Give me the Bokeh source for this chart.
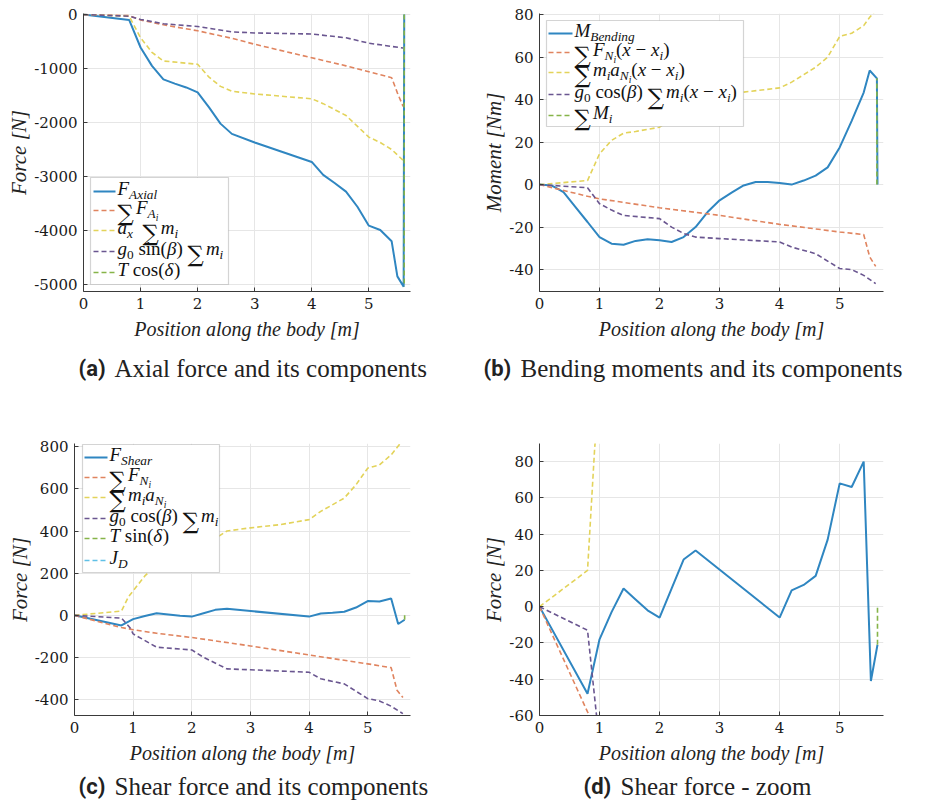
from bokeh.plotting import figure
from bokeh.layouts import column, row
from bokeh.models import Range1d, FixedTicker, Label, BoxAnnotation, Arrow
from bokeh.embed import file_html
from bokeh.resources import INLINE

# ---------------- data ----------------
# (a) axial force
axial_x = [0, 0.8, 1.0, 1.2, 1.4, 1.6, 1.8, 2.0, 2.2, 2.4, 2.6, 3.0, 3.5, 4.0, 4.2, 4.4, 4.6, 4.8, 5.0, 5.2, 5.4, 5.5, 5.61, 5.62]
axial_f = [0, -100, -610, -950, -1200, -1280, -1350, -1440, -1720, -2020, -2210, -2370, -2550, -2730, -2970, -3120, -3280, -3560, -3910, -3990, -4200, -4850, -5040, 0]
axial_fa_x = [0, 0.8, 1.0, 1.4, 2.0, 2.6, 3.0, 4.0, 4.6, 5.0, 5.4, 5.5, 5.6]
axial_fa_y = [0, -20, -100, -190, -300, -440, -550, -800, -950, -1060, -1170, -1450, -1700]
axial_am_x = [0, 0.8, 1.0, 1.2, 1.4, 2.0, 2.2, 2.4, 2.6, 3.0, 4.0, 4.2, 4.6, 5.0, 5.2, 5.4, 5.6]
axial_am_y = [0, -30, -430, -700, -860, -920, -1160, -1330, -1420, -1470, -1560, -1650, -1870, -2270, -2370, -2500, -2700]
axial_gm_x = [0, 0.8, 1.0, 1.4, 2.0, 2.6, 3.0, 4.0, 4.6, 5.0, 5.6]
axial_gm_y = [0, -30, -90, -170, -220, -320, -340, -360, -430, -530, -620]
axial_t_x = [5.62, 5.62]
axial_t_y = [0, -5040]

# (b) bending moment
bend_x = [0, 0.2, 0.4, 0.6, 0.8, 1.0, 1.2, 1.4, 1.6, 1.8, 2.0, 2.2, 2.4, 2.6, 2.8, 3.0, 3.2, 3.4, 3.6, 3.8, 4.0, 4.2, 4.4, 4.6, 4.8, 5.0, 5.2, 5.4, 5.5, 5.62, 5.63]
bend_m = [0, -0.4, -3.6, -10.6, -17.6, -24.7, -27.8, -28.3, -26.5, -25.7, -26.2, -27.0, -24.7, -20.0, -12.9, -7.4, -3.8, -0.4, 1.2, 1.2, 0.7, 0, 1.9, 4.2, 8.1, 17.5, 30.0, 43.3, 53.7, 50.0, 0]
bend_fn_x = [0, 0.8, 1.0, 2.0, 3.0, 4.0, 5.0, 5.4, 5.5, 5.6]
bend_fn_y = [0, -5.5, -6.7, -10.9, -14.5, -18.7, -22.3, -23.5, -34.0, -38.5]
bend_ma_x = [0, 0.8, 0.9, 1.0, 1.2, 1.4, 1.6, 2.0, 2.2, 2.6, 3.0, 3.4, 4.0, 4.2, 4.6, 4.8, 5.0, 5.2, 5.4, 5.5, 5.6]
bend_ma_y = [0, 1.9, 8.2, 14.5, 20.8, 24.2, 25.0, 27.0, 31.0, 40.0, 42.5, 43.5, 45.5, 48.2, 55.2, 60.0, 69.7, 71.2, 74.8, 78.7, 82.0]
bend_gm_x = [0, 0.8, 1.0, 1.2, 1.4, 2.0, 2.2, 2.4, 2.6, 3.0, 4.0, 4.2, 4.6, 5.0, 5.2, 5.4, 5.6]
bend_gm_y = [0, -1.5, -9.0, -12.0, -14.5, -16.0, -20.0, -23.0, -24.7, -25.4, -27.0, -29.4, -32.5, -39.5, -40.0, -42.7, -46.6]
bend_mi_x = [5.62, 5.62]
bend_mi_y = [0, 50]

# (c)/(d) shear force
shear_x = [0, 0.8, 1.0, 1.2, 1.4, 1.6, 1.8, 2.0, 2.2, 2.4, 2.6, 4.0, 4.2, 4.4, 4.6, 4.8, 5.0, 5.2, 5.4, 5.52, 5.63]
shear_f = [0, -48, -18, -3, 10, 4, -2, -6, 10, 26, 31, -6, 9, 12, 17, 37, 68, 66, 80, -41, -21]
shear_fn_x = [0, 0.8, 1.0, 1.4, 2.0, 3.0, 4.0, 5.0, 5.4, 5.5, 5.6]
shear_fn_y = [0, -58, -68, -85, -105, -145, -188, -230, -248, -355, -390]
shear_ma_x = [0, 0.8, 0.92, 1.0, 1.2, 1.4, 1.8, 2.0, 2.2, 2.6, 3.0, 3.5, 4.0, 4.2, 4.6, 4.8, 5.0, 5.2, 5.4, 5.6]
shear_ma_y = [0, 20, 88, 116, 187, 240, 265, 280, 330, 400, 415, 430, 454, 493, 556, 619, 698, 713, 761, 831]
shear_gm_x = [0, 0.8, 0.95, 1.0, 1.4, 2.0, 2.2, 2.6, 3.0, 4.0, 4.2, 4.6, 5.0, 5.2, 5.4, 5.6]
shear_gm_y = [0, -13, -60, -88, -151, -164, -199, -254, -258, -270, -301, -325, -395, -406, -431, -466]
shear_jd_x = [5.63, 5.63]
shear_jd_y = [0, 0]
shear_t_x = [5.63, 5.63]
shear_t_y = [-21, 0]

x_ticks = [0, 1, 2, 3, 4, 5]
a_yticks = [0, -1000, -2000, -3000, -4000, -5000]
b_yticks = [-40, -20, 0, 20, 40, 60, 80]
c_yticks = [-400, -200, 0, 200, 400, 600, 800]
d_yticks = [-60, -40, -20, 0, 20, 40, 60, 80]

x_label = "Position along the body [m]"
captions = [("(a)", "Axial force and its components"),
            ("(b)", "Bending moments and its components"),
            ("(c)", "Shear force and its components"),
            ("(d)", "Shear force - zoom")]

# ---------------- styling ----------------
BLUE = "#2f86c1"
RED = "#e0845f"
YEL = "#e3d35a"
PUR = "#6a5690"
GRN = "#86b449"
CYA = "#5fc0e6"
SERIF = "Liberation Serif"
DASH = "5 3"
TEXT_SHIFT = 7  # empirical baseline correction for captions (px, upwards)
LEG_RAISE = 3   # legend text raise (px)

ROMAN_W = {' ': .25, '(': .333, ')': .333, '−': .564, '-': .333, '0': .5, 's': .389, 'i': .278,
           'n': .5, 'c': .444, 'o': .5, 'β': .5, 'δ': .5}
ITAL_W = {'a': .5, 'b': .5, 'd': .5, 'e': .444, 'g': .5, 'h': .5, 'i': .278, 'l': .278, 'm': .722,
          'n': .5, 'r': .389, 's': .389, 'x': .444, 'A': .611, 'B': .611, 'D': .722, 'F': .611,
          'J': .444, 'M': .833, 'N': .667, 'S': .5, 'T': .556, 'β': .5, 'δ': .5, ' ': .25}
# style: (scale, italic, down-shift of the text middle in px, font)
STY = {"i": (1.0, True, 0, SERIF), "r": (1.0, False, 0, SERIF),
       "si": (0.7, True, 6, SERIF), "sr": (0.7, False, 6, SERIF),
       "ssi": (0.5, True, 10, SERIF), "sum": (1.2, False, 5, "DejaVu Serif")}
SUM_W = 0.72


def tw(text, italic):
    t = ITAL_W if italic else ROMAN_W
    return sum(t.get(ch, 0.5) for ch in text)


def add_label(p, x, y, text, size, italic=False, font=SERIF, bold=False, color="#111111",
              baseline="alphabetic", shift=TEXT_SHIFT):
    style = "bold" if bold else ("italic" if italic else "normal")
    p.add_layout(Label(x=x, y=y + shift, x_units="screen", y_units="screen",
                       text=text, text_font=font, text_font_size=f"{size:.1f}px",
                       text_font_style=style, text_align="left",
                       text_baseline=baseline, text_color=color))


class Panel:
    def __init__(self, w, h, L, R, T, B, ox, oy, yr, yticks, ylabel):
        p = figure(width=w, height=h, x_range=Range1d(0, 5.73), y_range=Range1d(*yr),
                   output_backend="svg", toolbar_location=None,
                   min_border_left=L, min_border_right=R, min_border_top=T, min_border_bottom=B)
        p.outline_line_color = None
        p.background_fill_color = "white"
        p.border_fill_color = "white"
        p.xaxis.ticker = FixedTicker(ticks=x_ticks)
        p.yaxis.ticker = FixedTicker(ticks=yticks)
        p.yaxis.major_label_overrides = {t: str(t) for t in yticks}
        for g in (p.xgrid, p.ygrid):
            g.grid_line_color = "#e6e6e6"
            g.grid_line_width = 1
        for ax in (p.xaxis, p.yaxis):
            ax.axis_line_color = "#3a3a3a"
            ax.axis_line_width = 1
            ax.major_tick_in = 4
            ax.major_tick_out = 0
            ax.major_tick_line_color = "#3a3a3a"
            ax.minor_tick_line_color = None
            ax.major_label_text_font = "DejaVu Serif"
            ax.major_label_text_font_size = "15px"
            ax.major_label_text_color = "#1a1a1a"
            ax.major_label_standoff = 6
            ax.axis_label_text_font = SERIF
            ax.axis_label_text_font_style = "italic"
            ax.axis_label_text_color = "#222222"
        p.xaxis.axis_label = x_label
        p.xaxis.axis_label_text_font_size = "20px"
        p.xaxis.axis_label_standoff = 6
        p.yaxis.axis_label = ylabel
        p.yaxis.axis_label_text_font_size = "21px"
        p.yaxis.axis_label_standoff = 0
        self.p = p
        self.FL = ox + L
        self.FB = oy + h - B

    def rich(self, px, pymid, segs, S=19):
        x = px
        for text, st in segs:
            k, it, down, font = STY[st]
            size = S * k
            core = text.strip(" ")
            lead = len(text) - len(text.lstrip(" "))
            trail = len(text) - len(text.rstrip(" "))
            x += lead * 0.25 * size
            add_label(self.p, x - self.FL, self.FB - (pymid + down - LEG_RAISE), core, size,
                      italic=it, font=font, baseline="middle", shift=0)
            if st == "sum":
                x += SUM_W * size + 2
            else:
                x += tw(core, it) * size
            x += trail * 0.25 * size

    def legend(self, box, sx, tx, items):
        x0, y0, x1, y1 = box
        self.p.add_layout(BoxAnnotation(left=x0 - self.FL, right=x1 - self.FL,
                                        top=self.FB - y0, bottom=self.FB - y1,
                                        left_units="screen", right_units="screen",
                                        top_units="screen", bottom_units="screen",
                                        fill_color="white", fill_alpha=1.0,
                                        line_color="#707070", line_width=1.2))
        for yc, color, dash, segs in items:
            self.p.add_layout(Arrow(start=None, end=None,
                                    x_start=sx[0] - self.FL, y_start=self.FB - yc,
                                    x_end=sx[1] - self.FL, y_end=self.FB - yc,
                                    start_units="screen", end_units="screen",
                                    line_color=color, line_width=2 if dash == "solid" else 1.5,
                                    line_dash=dash))
            self.rich(tx, yc, segs)


def caption_fig(w, h, top_y, items):
    """A blank strip holding the sub-figure captions; items: (x_tag, x_text, baseline_page_y, tag, text)"""
    p = figure(width=w, height=h, x_range=Range1d(0, 1), y_range=Range1d(0, 1),
               output_backend="svg", toolbar_location=None, min_border=0)
    p.axis.visible = False
    p.grid.visible = False
    p.outline_line_color = None
    p.border_fill_color = "white"
    p.background_fill_color = "white"
    for xt, xx, yb, tag, text in items:
        y = h - (yb - top_y)
        add_label(p, xt, y, tag, 22, font="Roboto", bold=True, color="#222222")
        add_label(p, xx, y, text, 25, color="#222222")
    return p


def dline(p, x, y, color):
    p.line(x, y, line_color=color, line_width=1.6, line_dash=DASH)


# ---------------- panel a ----------------
A = Panel(460, 348, 83, 50, 12, 56, 0, 0, (-5130, 20), a_yticks, "Force [N]")
A.p.line(axial_x, axial_f, line_color=BLUE, line_width=2)
dline(A.p, axial_fa_x, axial_fa_y, RED)
dline(A.p, axial_am_x, axial_am_y, YEL)
dline(A.p, axial_gm_x, axial_gm_y, PUR)
dline(A.p, axial_t_x, axial_t_y, GRN)
A.legend((90, 178, 228, 285), (93, 115), 117, [
    (192, BLUE, "solid", [("F", "i"), ("Axial", "si")]),
    (211, RED, DASH, [("∑", "sum"), ("F", "i"), ("A", "si"), ("i", "ssi")]),
    (231, YEL, DASH, [("a", "i"), ("x", "si"), (" ", "r"), ("∑", "sum"), ("m", "i"), ("i", "si")]),
    (252, PUR, DASH, [("g", "i"), ("0", "sr"), (" sin(", "r"), ("β", "i"), (") ", "r"), ("∑", "sum"), ("m", "i"), ("i", "si")]),
    (273, GRN, DASH, [("T", "i"), (" cos(", "r"), ("δ", "i"), (")", "r")]),
])

# ---------------- panel b ----------------
B = Panel(471, 348, 79, 48, 13, 57, 460, 0, (-50.3, 80.5), b_yticks, "Moment [Nm]")
B.p.line(bend_x, bend_m, line_color=BLUE, line_width=2)
dline(B.p, bend_fn_x, bend_fn_y, RED)
dline(B.p, bend_ma_x, bend_ma_y, YEL)
dline(B.p, bend_gm_x, bend_gm_y, PUR)
dline(B.p, bend_mi_x, bend_mi_y, GRN)
xx = [("(", "r"), ("x", "i"), (" − ", "r"), ("x", "i"), ("i", "si"), (")", "r")]
B.legend((546, 20, 743, 126), (548, 572), 574, [
    (33, BLUE, "solid", [("M", "i"), ("Bending", "si")]),
    (52, RED, DASH, [("∑", "sum"), ("F", "i"), ("N", "si"), ("i", "ssi")] + xx),
    (72, YEL, DASH, [("∑", "sum"), ("m", "i"), ("i", "si"), ("a", "i"), ("N", "si"), ("i", "ssi")] + xx),
    (94, PUR, DASH, [("g", "i"), ("0", "sr"), (" cos(", "r"), ("β", "i"), (") ", "r"), ("∑", "sum"), ("m", "i"), ("i", "si")] + xx),
    (115, GRN, DASH, [("∑", "sum"), ("M", "i"), ("i", "si")]),
])

# ---------------- panels c, d ----------------
C = Panel(460, 366, 74, 50, 39, 55, 0, 404, (-475, 815), c_yticks, "Force [N]")
D = Panel(471, 366, 79, 48, 34, 55, 460, 404, (-60, 90), d_yticks, "Force [N]")
for P in (C, D):
    P.p.line(shear_x, shear_f, line_color=BLUE, line_width=2)
    dline(P.p, shear_fn_x, shear_fn_y, RED)
    dline(P.p, shear_ma_x, shear_ma_y, YEL)
    dline(P.p, shear_gm_x, shear_gm_y, PUR)
    dline(P.p, shear_jd_x, shear_jd_y, CYA)
    dline(P.p, shear_t_x, shear_t_y, GRN)
C.legend((82, 444, 219, 572), (84, 107), 109, [
    (457, BLUE, "solid", [("F", "i"), ("Shear", "si")]),
    (477, RED, DASH, [("∑", "sum"), ("F", "i"), ("N", "si"), ("i", "ssi")]),
    (497, YEL, DASH, [("∑", "sum"), ("m", "i"), ("i", "si"), ("a", "i"), ("N", "si"), ("i", "ssi")]),
    (518, PUR, DASH, [("g", "i"), ("0", "sr"), (" cos(", "r"), ("β", "i"), (") ", "r"), ("∑", "sum"), ("m", "i"), ("i", "si")]),
    (538, GRN, DASH, [("T", "i"), (" sin(", "r"), ("δ", "i"), (")", "r")]),
    (560, CYA, DASH, [("J", "i"), ("D", "si")]),
])

cap_top = caption_fig(931, 56, 348, [(78, 114, 375, *captions[0]), (483, 520, 375, *captions[1])])
cap_bot = caption_fig(931, 39, 770, [(78, 114, 793, *captions[2]), (583, 620, 793, *captions[3])])

layout = column(row(A.p, B.p), cap_top, row(C.p, D.p), cap_bot)
open("out.html", "w").write(file_html(layout, INLINE))
